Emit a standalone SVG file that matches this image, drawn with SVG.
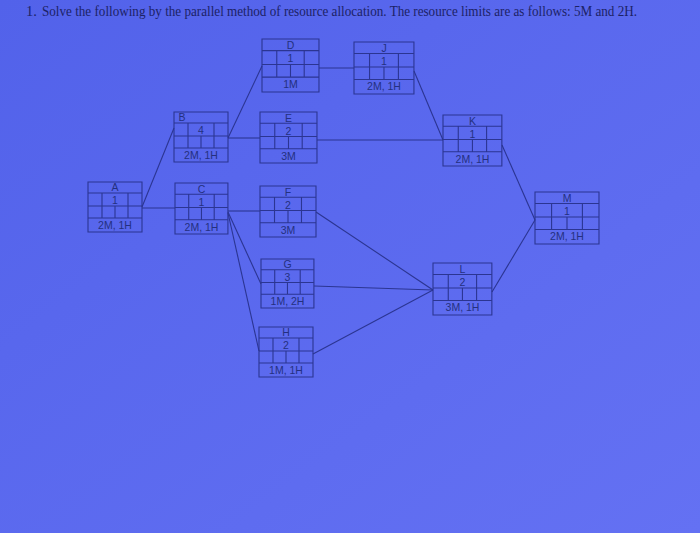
<svg xmlns="http://www.w3.org/2000/svg" xmlns:xlink="http://www.w3.org/1999/xlink" width="700" height="533" viewBox="0 0 700 533">
<defs>
<linearGradient id="bg" x1="0" y1="0" x2="1" y2="1">
<stop offset="0" stop-color="#5262ea"/>
<stop offset="1" stop-color="#6471f3"/>
</linearGradient>
<g id="grid" fill="none" stroke="#2b3592" stroke-width="1.1">
<rect x="0" y="0" width="54" height="50" vector-effect="non-scaling-stroke"/>
<path d="M0 11H54M0 24H54M0 36H54M14 11V36M40 11V36M27 24V36" vector-effect="non-scaling-stroke"/>
</g>
</defs>
<style>
.t{font-family:"Liberation Sans",Arial,sans-serif;font-size:10.5px;fill:#24307f;text-anchor:middle}
.title{font-family:"Liberation Serif","Times New Roman",serif;font-size:14.5px;fill:#1c2266}
.c{stroke:#2b3592;stroke-width:1.1;fill:none}
</style>
<rect width="700" height="533" fill="url(#bg)"/>
<text class="title" x="26" y="16">1.</text>
<text class="title" x="42" y="16" textLength="595" lengthAdjust="spacingAndGlyphs">Solve the following by the parallel method of resource allocation. The resource limits are as follows: 5M and 2H.</text>
<g id="connectors" class="c">
<line x1="142" y1="207" x2="174" y2="128"/>
<line x1="142" y1="208" x2="175" y2="208"/>
<line x1="228" y1="138" x2="262" y2="66"/>
<line x1="228" y1="138" x2="260" y2="138"/>
<line x1="317" y1="140" x2="443" y2="140"/>
<line x1="319" y1="68" x2="354" y2="68"/>
<line x1="414" y1="71" x2="443" y2="140"/>
<line x1="502" y1="145" x2="535" y2="220"/>
<line x1="228" y1="211" x2="260" y2="211"/>
<line x1="228" y1="212" x2="261" y2="284"/>
<line x1="228" y1="213" x2="259" y2="351"/>
<line x1="316" y1="212" x2="433" y2="290"/>
<line x1="314" y1="286" x2="433" y2="290"/>
<line x1="313" y1="354" x2="433" y2="290"/>
<line x1="492" y1="292" x2="535" y2="220"/>
</g>
<g id="A"><use xlink:href="#grid" transform="translate(88,182)"/><text class="t" x="115" y="191">A</text><text class="t" x="115" y="204">1</text><text class="t" x="115" y="228.5">2M, 1H</text></g>
<g id="B"><use xlink:href="#grid" transform="translate(174,112)"/><text class="t" x="182" y="121">B</text><text class="t" x="201" y="134">4</text><text class="t" x="201" y="158.5">2M, 1H</text></g>
<g id="C"><use xlink:href="#grid" transform="translate(175,183) scale(0.98,1.02)"/><text class="t" x="201.5" y="192.5">C</text><text class="t" x="201.5" y="205.5">1</text><text class="t" x="201.5" y="230.5">2M, 1H</text></g>
<g id="D"><use xlink:href="#grid" transform="translate(262,39) scale(1.055,1.06)"/><text class="t" x="290.5" y="49">D</text><text class="t" x="290.5" y="62">1</text><text class="t" x="290.5" y="88">1M</text></g>
<g id="E"><use xlink:href="#grid" transform="translate(260,112) scale(1.055,1.02)"/><text class="t" x="288.5" y="121.5">E</text><text class="t" x="288.5" y="134.5">2</text><text class="t" x="288.5" y="159.5">3M</text></g>
<g id="F"><use xlink:href="#grid" transform="translate(260,186) scale(1.037,1.02)"/><text class="t" x="288" y="195.5">F</text><text class="t" x="288" y="208.5">2</text><text class="t" x="288" y="233.5">3M</text></g>
<g id="G"><use xlink:href="#grid" transform="translate(261,259) scale(0.98,0.98)"/><text class="t" x="287.5" y="268">G</text><text class="t" x="287.5" y="281">3</text><text class="t" x="287.5" y="304.5">1M, 2H</text></g>
<g id="H"><use xlink:href="#grid" transform="translate(259,327)"/><text class="t" x="286" y="336">H</text><text class="t" x="286" y="349">2</text><text class="t" x="286" y="373.5">1M, 1H</text></g>
<g id="J"><use xlink:href="#grid" transform="translate(354,42) scale(1.11,1.04)"/><text class="t" x="384" y="51.5">J</text><text class="t" x="384" y="64.5">1</text><text class="t" x="384" y="90">2M, 1H</text></g>
<g id="K"><use xlink:href="#grid" transform="translate(443,115) scale(1.09,1.02)"/><text class="t" x="472.5" y="124.5">K</text><text class="t" x="472.5" y="137.5">1</text><text class="t" x="472.5" y="162.5">2M, 1H</text></g>
<g id="L"><use xlink:href="#grid" transform="translate(433,263) scale(1.09,1.04)"/><text class="t" x="462.5" y="272.5">L</text><text class="t" x="462.5" y="285.5">2</text><text class="t" x="462.5" y="311">3M, 1H</text></g>
<g id="M"><use xlink:href="#grid" transform="translate(535,192) scale(1.185,1.04)"/><text class="t" x="567" y="201.5">M</text><text class="t" x="567" y="214.5">1</text><text class="t" x="567" y="240">2M, 1H</text></g>
</svg>
